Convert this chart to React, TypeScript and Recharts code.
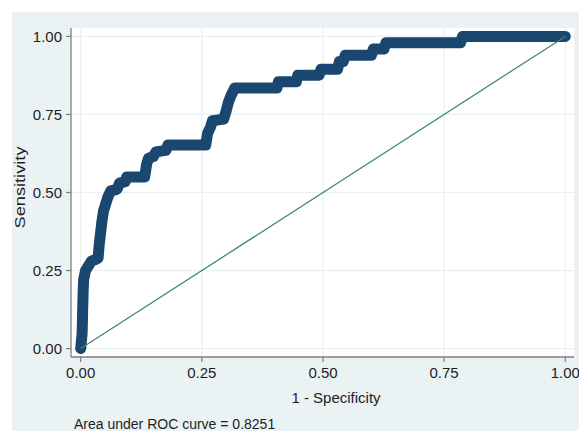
import React from 'react';
import { LineChart, Line, XAxis, YAxis, CartesianGrid, Label } from 'recharts';

// ROC curve corners (1 - specificity, sensitivity)
const fpr = [
  0, 0.003, 0.004, 0.005, 0.006, 0.01, 0.016, 0.022, 0.03, 0.036, 0.038, 0.041, 0.044, 0.047,
  0.051, 0.056, 0.062, 0.075, 0.08, 0.092, 0.095, 0.132, 0.136, 0.14, 0.15, 0.155, 0.176, 0.18,
  0.258, 0.262, 0.268, 0.272, 0.295, 0.3, 0.305, 0.31, 0.318, 0.405, 0.408, 0.445, 0.448, 0.492,
  0.496, 0.53, 0.534, 0.542, 0.546, 0.6, 0.604, 0.626, 0.63, 0.784, 0.788, 1.0,
];
const tpr = [
  0, 0.05, 0.12, 0.18, 0.22, 0.25, 0.265, 0.28, 0.285, 0.29, 0.33, 0.37, 0.41, 0.44,
  0.46, 0.485, 0.505, 0.51, 0.53, 0.535, 0.55, 0.55, 0.59, 0.61, 0.615, 0.63, 0.635, 0.652,
  0.652, 0.69, 0.71, 0.73, 0.735, 0.76, 0.79, 0.81, 0.835, 0.835, 0.855, 0.855, 0.876, 0.876,
  0.895, 0.895, 0.92, 0.92, 0.94, 0.94, 0.96, 0.96, 0.98, 0.98, 1.0, 1.0,
];

// reference diagonal
const refX = [0, 1];
const refY = [0, 1];

const ticks = [0, 0.25, 0.5, 0.75, 1];
const xTitle = '1 - Specificity';
const yTitle = 'Sensitivity';
const note = 'Area under ROC curve = 0.8251';

const rocData = fpr.map((x, i) => ({ fpr: x, tpr: tpr[i] }));
const refData = refX.map((x, i) => ({ fpr: x, tpr: refY[i] }));

const font = '"Liberation Sans", Arial, Helvetica, sans-serif';

export default function App() {
  return (
    <div style={{ position: 'absolute', left: 0, top: 0, width: 579, height: 431, background: '#fff' }}>
      <div style={{ position: 'absolute', left: 12, top: 12, right: 0, bottom: 0, background: '#eaf2f3' }} />
      <div style={{ position: 'absolute', left: 0, top: 0 }}>
        <LineChart width={579} height={431} margin={{ top: 28, right: 5, left: 0, bottom: 0 }}>
          <CartesianGrid
            fill="#ffffff"
            stroke="#e9f0f1"
            strokeWidth={1.2}
            horizontalValues={ticks}
            verticalValues={ticks}
          />
          <XAxis
            type="number"
            dataKey="fpr"
            domain={[-0.02, 1.018]}
            allowDataOverflow
            ticks={ticks}
            tickFormatter={(v: number) => v.toFixed(2)}
            height={74}
            tickSize={5}
            tickMargin={5}
            axisLine={{ stroke: '#7d7d7d', strokeWidth: 1.3 }}
            tickLine={{ stroke: '#7d7d7d', strokeWidth: 1.2 }}
            tick={{ fill: '#1e1e1e', fontSize: 15, fontFamily: font }}
          >
            <Label
              content={(p: any) => (
                <g>
                  <text
                    x={p.viewBox.x + 265}
                    y={p.viewBox.y + 46}
                    textAnchor="middle"
                    fill="#1e1e1e"
                    fontSize={15}
                    fontFamily={font}
                  >
                    {xTitle}
                  </text>
                  <text x={74} y={428.5} fill="#1e1e1e" fontSize={14} fontFamily={font}>
                    {note}
                  </text>
                </g>
              )}
            />
          </XAxis>
          <YAxis
            type="number"
            dataKey="tpr"
            domain={[-0.027, 1.027]}
            allowDataOverflow
            ticks={ticks}
            tickFormatter={(v: number) => v.toFixed(2)}
            width={71}
            tickSize={5}
            tickMargin={4}
            axisLine={{ stroke: '#7d7d7d', strokeWidth: 1.3 }}
            tickLine={{ stroke: '#7d7d7d', strokeWidth: 1.2 }}
            tick={{ fill: '#1e1e1e', fontSize: 15, fontFamily: font }}
          >
            <Label
              content={() => (
                <text
                  x={25}
                  y={187.5}
                  transform="rotate(-90 25 187.5)"
                  textAnchor="middle"
                  fill="#1e1e1e"
                  fontSize={15}
                  fontFamily={font}
                  textLength={82}
                  lengthAdjust="spacingAndGlyphs"
                >
                  {yTitle}
                </text>
              )}
            />
          </YAxis>
          <Line
            data={rocData}
            dataKey="tpr"
            type="linear"
            stroke="#1a476f"
            strokeWidth={11}
            strokeLinecap="round"
            strokeLinejoin="round"
            dot={false}
            isAnimationActive={false}
          />
          <Line
            data={refData}
            dataKey="tpr"
            type="linear"
            stroke="#3f8a6c"
            strokeWidth={1.3}
            dot={false}
            isAnimationActive={false}
          />
        </LineChart>
      </div>
    </div>
  );
}
